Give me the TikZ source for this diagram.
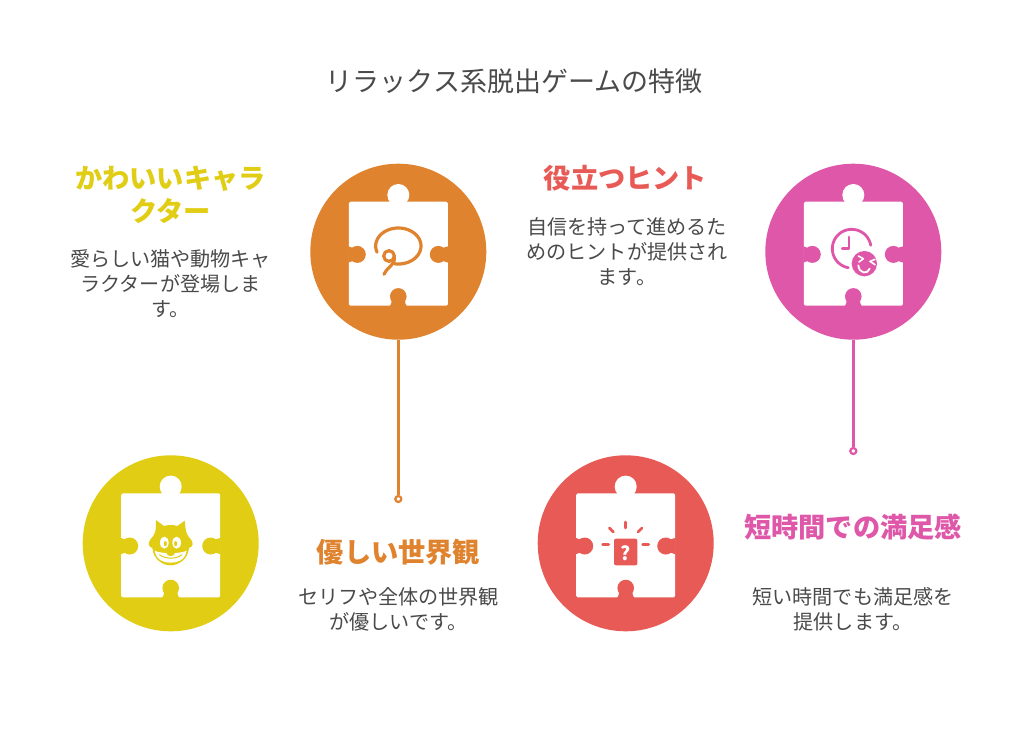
\documentclass[tikz,border=0pt]{standalone}
\usepackage{fontspec}
\setmainfont{Noto Sans CJK JP}
\definecolor{cOrange}{HTML}{E0832F}
\definecolor{cPink}{HTML}{DF57A8}
\definecolor{cYellow}{HTML}{E0CD14}
\definecolor{cRed}{HTML}{E85A55}
\definecolor{cText}{HTML}{4A4A4A}
\tikzset{
  disc/.style={circle,inner sep=0pt,minimum size=176pt,fill=#1},
  endring/.style={circle,inner sep=0pt,minimum size=6pt,draw=#1,fill=white,line width=2.2pt},
  link/.style={draw=#1,line width=3pt},
  titletext/.style={text=cText,font=\fontsize{27}{32}\selectfont,inner sep=0pt},
  headtext/.style={text=#1,font=\fontsize{27.2}{33}\selectfont\bfseries,align=center,inner sep=0pt},
  bodytext/.style={text=cText,font=\fontsize{20.1}{25}\selectfont,align=center,inner sep=0pt},
  iconline/.style={draw=#1,line width=3.2pt,line cap=round,line join=round},
}
\newcommand{\puzzlepiece}[3]{%
  \begin{scope}[shift={(#1,#2)}]
    \fill[white,rounded corners=1.5pt] (-49.5,-50) rectangle (49.5,54);
    \fill[white] (0,-56.7) circle[radius=11];
    \fill[white] (-9,-48) -- (-8,-53) -- (8,-53) -- (9,-48) -- cycle;
    \fill[#3] (0,44.7) circle[radius=8.3];
    \fill[#3] (-6.5,48) .. controls (-6.5,51) and (-7.5,53) .. (-8.5,54.5) -- (8.5,54.5) .. controls (7.5,53) and (6.5,51) .. (6.5,48) -- cycle;
    \fill[#3] (-41,2.7) circle[radius=8.5];
    \fill[#3] (-44,-3.5) .. controls (-46,-4) and (-48,-4.5) .. (-50,-5.5) -- (-50,11) .. controls (-48,10) and (-46,9.4) .. (-44,9) -- cycle;
    \fill[#3] (40,2.7) circle[radius=8.5];
    \fill[#3] (43,-3.5) .. controls (45,-4) and (47,-4.5) .. (50,-5.5) -- (50,11) .. controls (47,10) and (45,9.4) .. (43,9) -- cycle;
  \end{scope}}
\begin{document}
\begin{tikzpicture}[x=1pt,y=-1pt]
\useasboundingbox[fill=white] (0,0) rectangle (1024,731);

\node[titletext] (title) at (514,81) {リラックス系脱出ゲームの特徴};

% discs
\node[disc=cOrange] (orangedisc) at (398.3,251.7) {};
\node[disc=cPink] (pinkdisc) at (853.3,251.7) {};
\node[disc=cYellow] (yellowdisc) at (170.7,543.3) {};
\node[disc=cRed] (reddisc) at (625.7,543.3) {};

% connectors
\node[endring=cOrange] (orangeend) at (398.3,499) {};
\node[endring=cPink] (pinkend) at (853.3,451) {};
\draw[link=cOrange] (orangedisc) -- (orangeend);
\draw[link=cPink] (pinkdisc) -- (pinkend);

% puzzle pieces
\puzzlepiece{398.3}{251.7}{cOrange}
\puzzlepiece{853.3}{251.7}{cPink}
\puzzlepiece{170.7}{543.3}{cYellow}
\puzzlepiece{625.7}{543.3}{cRed}

% orange icon: speech bubble
\begin{scope}[shift={(370,222)},scale=1/3]
  \draw[iconline=cOrange] plot[domain=-200:100,samples=60,smooth] ({85+68*cos(\x)},{72+54*sin(\x)});
  \draw[iconline=cOrange,fill=white] (57,102) circle[radius=16];
  \draw[iconline=cOrange] (73,104) .. controls (76,130) and (55,130) .. (42,157);
\end{scope}

% pink icon: clock and smile
\begin{scope}[shift={(825,222)},scale=1/3]
  \draw[iconline=cPink,line width=2.8pt] plot[domain=-10:-260,samples=60,smooth] ({80+58*cos(\x)},{80+58*sin(\x)});
  \draw[iconline=cPink,line width=2.8pt] (72,45) -- (72,80) -- (52,80);
  \fill[cPink] (118,125) circle[radius=38];
  \draw[iconline=white,line width=1.6pt] (100,102) -- (115,110) -- (102,120);
  \draw[iconline=white,line width=1.6pt] (150,112) -- (135,118) -- (150,128);
  \draw[iconline=white,line width=1.8pt] (100,130) .. controls (102,155) and (128,158) .. (134,140);
\end{scope}

% yellow icon: cat face
\begin{scope}[shift={(140,512)},scale=1/3]
  \fill[cYellow] (48,24) -- (72,42) .. controls (85,38) and (100,38) .. (112,42) -- (134,26)
    .. controls (136,40) and (136,50) .. (138,58) .. controls (142,70) and (148,78) .. (154,84)
    .. controls (160,92) and (160,104) .. (147,108)
    .. controls (144,142) and (115,160) .. (92,160) .. controls (68,160) and (40,142) .. (37,108)
    .. controls (24,104) and (24,92) .. (30,84) .. controls (36,78) and (42,70) .. (46,58)
    .. controls (48,48) and (48,38) .. (48,24) -- cycle;
  \fill[white] (73,92) ellipse[x radius=13,y radius=18];
  \fill[white] (110,92) ellipse[x radius=13,y radius=18];
  \fill[cYellow] (76,95) ellipse[x radius=4.5,y radius=8];
  \fill[cYellow] (107,95) ellipse[x radius=4.5,y radius=8];
  \fill[white] (44,116) .. controls (62,126) and (122,126) .. (140,116)
    .. controls (134,146) and (112,152) .. (92,152) .. controls (72,152) and (50,146) .. (44,116) -- cycle;
  \fill[cYellow] (92,124) ellipse[x radius=12,y radius=8];
  \draw[cYellow,line width=1pt] (58,128) .. controls (76,142) and (108,142) .. (126,128);
\end{scope}

% red icon: question box
\begin{scope}[shift={(530,448)},scale=1/3]
  \fill[cRed,rounded corners=2pt] (252,272) rectangle (322,352);
  \draw[iconline=cRed,line width=2.8pt] (238,240) -- (250,252);
  \draw[iconline=cRed,line width=2.8pt] (286,222) -- (286,240);
  \draw[iconline=cRed,line width=2.8pt] (336,240) -- (324,252);
  \draw[iconline=cRed,line width=2.8pt] (218,290) -- (236,290);
  \draw[iconline=cRed,line width=2.8pt] (338,290) -- (356,290);
\end{scope}
\node[text=white,font=\fontsize{19}{19}\selectfont\bfseries,inner sep=0pt] (qmark) at (625.8,553.5) {?};

% texts
\node[headtext=cYellow] (h1) at (170.5,194.5) {かわいいキャラ\\クター};
\node[bodytext] (b1) at (170.5,284) {愛らしい猫や動物キャ\\ラクターが登場しま\\す。};
\node[headtext=cRed] (h2) at (625.5,178) {役立つヒント};
\node[bodytext] (b2) at (627,252) {自信を持って進めるた\\めのヒントが提供され\\ます。};
\node[headtext=cOrange] (h3) at (398.5,552) {優しい世界観};
\node[bodytext] (b3) at (398.5,609.5) {セリフや全体の世界観\\が優しいです。};
\node[headtext=cPink] (h4) at (853,527) {短時間での満足感};
\node[bodytext] (b4) at (853,609.5) {短い時間でも満足感を\\提供します。};
\end{tikzpicture}
\end{document}
